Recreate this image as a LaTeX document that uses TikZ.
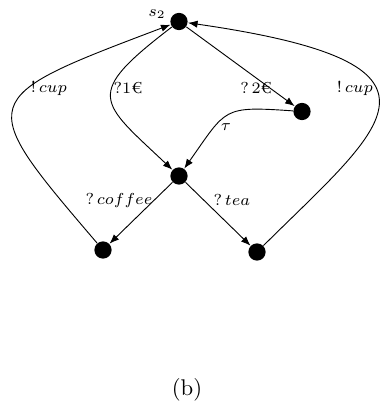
\documentclass[tikz,border=0pt]{standalone}
\usepackage{fontspec}
\usetikzlibrary{arrows.meta}
\begin{document}
\begin{tikzpicture}[x=0.44pt, y=-0.44pt,
        estado/.style={circle, fill=black, inner sep=0pt, minimum size=7.6pt},
        etiqueta/.style={font=\scriptsize, inner sep=1pt},
        flecha/.style={thin, -{Latex[length=4.2pt, width=3.2pt]}}
    ]
        \useasboundingbox (0,0) rectangle (383,408);
        \node[estado] (s2) at (179,21.5) {};
        \node[estado] (pago) at (302,111.5) {};
        \node[estado] (bebida) at (179,176) {};
        \node[estado] (cafe) at (103,250) {};
        \node[estado] (te) at (257,252) {};
        \node[etiqueta] (ls2) at (157,14) {$s_2$};
        \node[etiqueta] (lcupa) at (49,88) {!\,$cup$};
        \node[etiqueta] (luno) at (128,88) {?1€};
        \node[etiqueta] (ldos) at (256,88) {?\,2€};
        \node[etiqueta] (lcupb) at (355,88) {!\,$cup$};
        \node[etiqueta] (ltau) at (226,127) {$\tau$};
        \node[etiqueta] (lcafe) at (119,200) {?\,$coffee$};
        \node[etiqueta] (lte) at (232,200) {?\,$tea$};
        \node (pie) at (187,390) {(b)};
        \draw[flecha] (s2) .. controls (83,95) and (99,100.5) .. (bebida);
        \draw[flecha] (s2) -- (pago);
        \draw[flecha] (pago) .. controls (222,106) and (227,108) .. (bebida);
        \draw[flecha] (bebida) -- (cafe);
        \draw[flecha] (bebida) -- (te);
        \draw[flecha] (cafe) .. controls (-26,99) .. (s2);
        \draw[flecha] (te) .. controls (384,126) and (474,64) .. (s2);
    \end{tikzpicture}
\end{document}
